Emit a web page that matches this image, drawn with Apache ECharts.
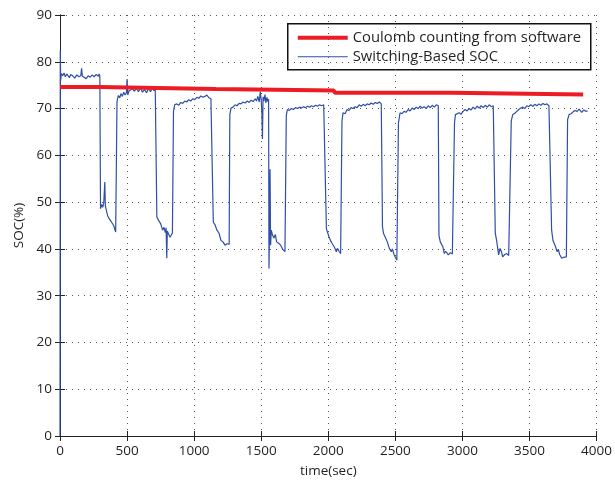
<!DOCTYPE html>
<html>
<head>
<meta charset="utf-8">
<script src="https://cdn.jsdelivr.net/npm/echarts@6/dist/echarts.min.js"></script>
<style>html,body{margin:0;padding:0;background:#fff}#c{width:615px;height:483px}</style>
</head>
<body>
<div id="c"></div>
<script>
// Coulomb counting (software) – step line
const coulombTime = [0, 297, 305, 1163, 1171, 2041, 2049, 2919, 2927, 3900];
const coulombSoc  = [74.6, 74.6, 74.2, 74.2, 73.85, 73.85, 73.4, 73.4, 73.0, 73.0];

// Switching-Based SOC
const switchTime = [
  0,2,5,10,20,30,40,50,60,70,80,95,110,125,140,155,161,167,180,195,210,225,240,255,270,285,292,297,
  302,310,318,326,334,338,345,355,368,380,388,400,410,415,
  425,435,445,455,465,475,485,495,500,505,515,525,540,555,570,585,600,615,630,645,660,675,690,700,710,717,
  722,735,750,765,775,785,791,796,800,810,820,830,838,841,
  846,855,870,885,900,915,930,945,960,975,990,1005,1020,1035,1050,1065,1080,1095,1110,1125,1138,
  1143,1155,1170,1185,1200,1215,1230,1245,1255,1261,
  1266,1275,1290,1305,1320,1335,1350,1365,1380,1395,1410,1425,1440,1455,1465,1475,1485,1493,1500,1505,1509,1514,1520,1528,1535,1542,1550,1555,
  1558,1562,1566,1570,1575,1585,1595,1605,1615,1630,1645,1660,1670,1677,
  1687,1695,1710,1725,1740,1755,1770,1785,1800,1815,1830,1845,1860,1875,1890,1905,1920,1935,1950,1966,1980,
  1986,1995,2005,2020,2030,2045,2060,2068,2080,2092,2097,
  2102,2110,2125,2140,2155,2170,2185,2200,2215,2230,2245,2260,2275,2290,2305,2320,2335,2350,2365,2380,2395,2399,
  2404,2412,2425,2440,2455,2470,2478,2490,2500,2511,2515,
  2523,2535,2550,2565,2580,2595,2610,2625,2640,2655,2670,2685,2700,2715,2730,2745,2760,2775,2790,2805,2815,2820,
  2825,2835,2845,2855,2865,2875,2885,2895,2910,2925,2936,
  2941,2948,2960,2975,2990,3005,3020,3035,3050,3065,3080,3095,3110,3125,3140,3155,3170,3185,3200,3215,3230,3235,
  3245,3255,3262,3270,3280,3290,3300,3315,3330,3345,3355,3359,
  3364,3375,3390,3405,3420,3435,3450,3465,3480,3495,3510,3525,3540,3555,3570,3585,3600,3615,3630,3645,3655,
  3665,3675,3682,3695,3705,3715,3725,3740,3755,3765,3775,3779,
  3784,3795,3810,3825,3840,3855,3870,3880,3890,3905,3920,3933
];
const switchSoc = [
  0,82.3,76.0,77.5,77.0,77.6,76.8,77.4,77.1,76.6,77.3,77.0,76.5,77.2,76.8,77.0,78.6,76.9,77.1,76.4,77.0,76.7,77.2,76.8,77.3,76.9,77.4,76.8,
  48.6,49.5,48.9,49.8,54.3,49.2,49.6,47.1,46.4,45.9,45.7,45.0,44.6,43.6,
  71.5,72.8,72.3,73.2,72.6,73.5,72.9,73.4,76.3,72.9,73.8,73.4,74.2,73.7,74.3,73.6,74.4,73.5,74.1,73.4,74.3,73.6,74.5,73.8,74.6,74.2,
  46.8,46.1,45.4,44.0,44.6,43.5,44.5,38.0,43.8,44.0,42.5,42.9,43.4,43.0,
  69.4,70.8,71.0,70.7,71.3,71.1,71.6,71.4,71.9,71.6,72.1,71.9,72.4,72.2,72.7,72.4,72.6,72.9,72.3,72.1,71.9,
  45.7,45.2,44.0,43.4,41.8,41.5,40.8,41.1,40.9,41.0,
  68.7,70.1,70.3,70.8,70.6,71.1,71.0,71.4,71.2,71.6,71.3,71.8,71.5,72.1,71.6,72.6,71.4,73.6,71.8,69.0,63.5,72.5,71.6,73.0,71.2,72.4,71.5,72.0,
  35.8,44.0,57.0,40.8,44.0,42.9,42.3,43.1,41.5,41.2,40.8,39.9,39.7,39.4,
  68.5,69.8,69.6,70.0,69.8,70.2,70.0,70.3,70.1,70.4,70.2,70.5,70.3,70.6,70.4,70.7,70.5,70.8,70.6,70.8,70.6,
  44.3,43.5,42.6,41.6,41.1,40.4,39.4,40.1,39.5,39.0,39.2,
  67.3,69.1,68.9,69.8,69.6,70.2,70.0,70.4,70.2,70.8,70.5,70.9,70.6,71.0,70.8,71.2,70.9,71.3,71.1,71.4,71.0,71.0,
  44.7,43.3,42.5,41.5,40.1,39.4,40.0,38.8,38.2,37.6,37.9,
  66.9,69.1,68.9,69.4,69.2,69.8,69.5,70.1,69.8,70.3,70.0,70.5,70.1,70.4,70.0,70.6,70.2,70.7,70.3,70.8,70.5,70.6,
  42.9,41.5,41.2,40.4,39.0,39.5,39.3,38.7,39.2,38.9,38.7,
  66.9,68.7,68.9,69.1,68.8,69.4,69.8,69.5,70.0,69.7,70.3,69.9,70.5,70.1,70.6,70.2,70.7,70.3,70.8,70.4,70.6,70.6,
  43.3,41.8,41.5,38.7,40.1,39.5,38.3,38.8,39.0,38.6,38.9,39.0,
  67.3,68.7,69.0,69.4,69.8,70.1,70.3,70.0,70.6,70.4,70.8,70.5,70.9,70.6,71.0,70.7,71.1,70.8,71.0,70.6,70.6,
  44.0,41.8,41.5,40.4,39.4,39.9,38.8,38.0,38.2,38.0,38.3,38.5,
  67.6,68.7,68.9,69.3,69.6,69.4,69.9,69.6,69.2,69.7,69.4,69.5
];

const xTicks = [0, 500, 1000, 1500, 2000, 2500, 3000, 3500, 4000];
const yTicks = [0, 10, 20, 30, 40, 50, 60, 70, 80, 90];
const legendNames = ['Coulomb counting from software', 'Switching-Based SOC'];

const zip = (a, b) => a.map((v, i) => [v, b[i]]);
const FONT = 'Open Sans';
const txt = '#231f20';
const RED = '#ed1c24', BLUE = '#2f4fa6';

const chart = echarts.init(document.getElementById('c'), null, {renderer: 'canvas'});
const tickInside = {show: true, inside: true, length: 5, lineStyle: {color: '#222', width: 1}};
const gridLine = {show: true, lineStyle: {color: '#555', type: [1, 5], width: 1}};
chart.setOption({
  animation: false,
  backgroundColor: '#fff',
  grid: {left: 60, right: 17, top: 15, bottom: 44, containLabel: false},
  xAxis: [{
    type: 'value', min: xTicks[0], max: xTicks[xTicks.length - 1], interval: 500,
    name: 'time(sec)', nameLocation: 'middle', nameGap: 28,
    nameTextStyle: {fontFamily: FONT, fontSize: 13.5, color: txt},
    axisLine: {show: true, lineStyle: {color: '#222', width: 1}},
    axisTick: tickInside,
    axisLabel: {fontFamily: FONT, fontSize: 13.5, color: txt, margin: 8, formatter: v => String(v)},
    splitLine: gridLine
  }, {
    type: 'value', position: 'top', min: 0, max: 4000, interval: 500,
    axisLine: {show: true, lineStyle: {color: '#222', width: 1}},
    axisTick: tickInside, axisLabel: {show: false}, splitLine: {show: false}
  }],
  yAxis: [{
    type: 'value', min: yTicks[0], max: yTicks[yTicks.length - 1], interval: 10,
    name: 'SOC(%)', nameLocation: 'middle', nameGap: 34, nameRotate: 90,
    nameTextStyle: {fontFamily: FONT, fontSize: 13.5, color: txt},
    axisLine: {show: true, lineStyle: {color: '#222', width: 1}},
    axisTick: tickInside,
    axisLabel: {fontFamily: FONT, fontSize: 13.5, color: txt, margin: 8, formatter: v => String(v)},
    splitLine: gridLine
  }, {
    type: 'value', position: 'right', min: 0, max: 90, interval: 10,
    axisLine: {show: true, lineStyle: {color: '#222', width: 1}},
    axisTick: tickInside, axisLabel: {show: false}, splitLine: {show: false}
  }],
  graphic: [{
    type: 'group', left: 287, top: 23, z: 100,
    children: [
      {type: 'rect', shape: {x: 0, y: 0, width: 303, height: 46}, style: {fill: '#fff', stroke: '#111', lineWidth: 1.5}},
      {type: 'line', shape: {x1: 10, y1: 14, x2: 60, y2: 14}, style: {stroke: RED, lineWidth: 4}},
      {type: 'line', shape: {x1: 10, y1: 33, x2: 60, y2: 33}, style: {stroke: BLUE, lineWidth: 1.2}},
      {type: 'text', x: 65, y: 14, style: {text: legendNames[0], fontFamily: FONT, fontSize: 14.8, fill: txt, verticalAlign: 'middle'}},
      {type: 'text', x: 65, y: 33, style: {text: legendNames[1], fontFamily: FONT, fontSize: 14.8, fill: txt, verticalAlign: 'middle'}}
    ]
  }],
  series: [{
    name: legendNames[0], type: 'line',
    data: zip(coulombTime, coulombSoc), symbol: 'none', showSymbol: false,
    lineStyle: {color: RED, width: 4}, itemStyle: {color: RED}, z: 3
  }, {
    name: legendNames[1], type: 'line',
    data: zip(switchTime, switchSoc), symbol: 'none', showSymbol: false,
    lineStyle: {color: BLUE, width: 1.2}, itemStyle: {color: BLUE}, z: 2
  }]
});
</script>
</body>
</html>
